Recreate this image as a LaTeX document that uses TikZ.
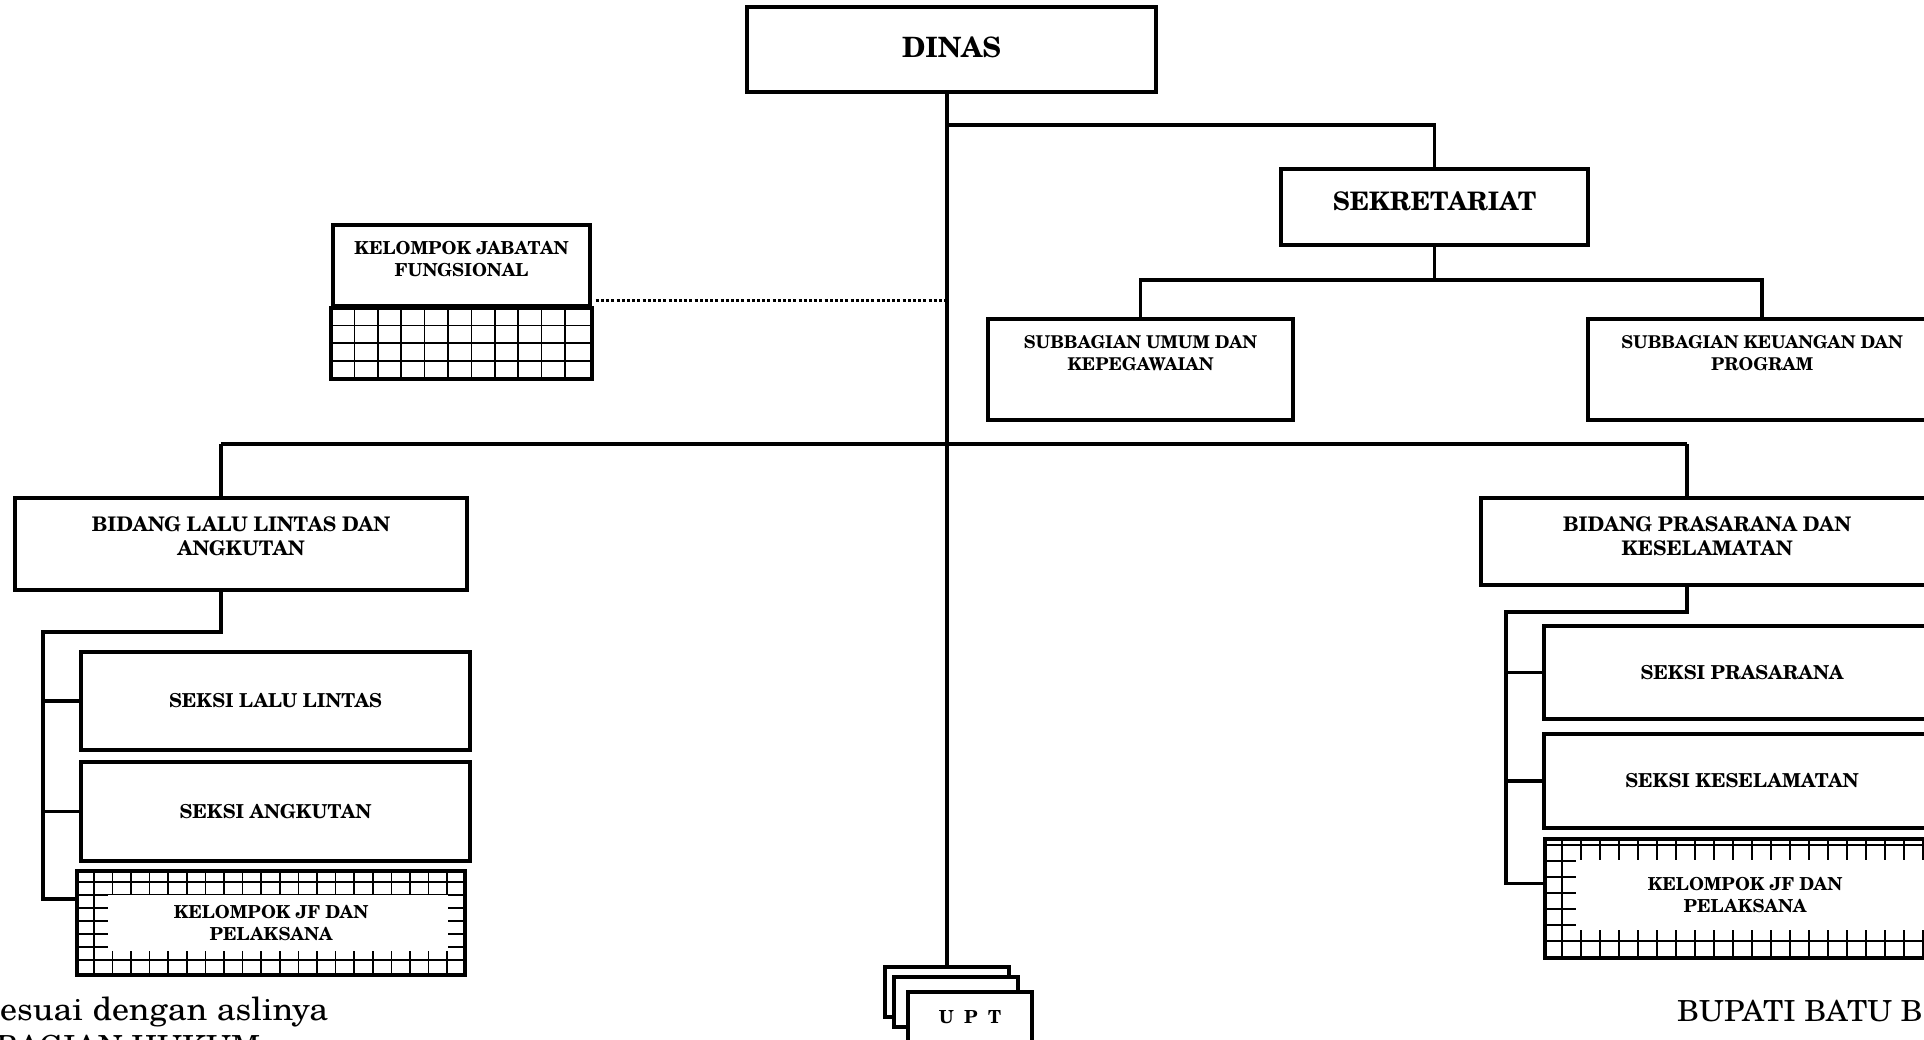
\documentclass[tikz,border=0pt]{standalone}
\usepackage{fontspec}
\setmainfont{texgyreschola}[Extension=.otf, UprightFont=*-regular, BoldFont=*-bold, ItalicFont=*-italic, BoldItalicFont=*-bolditalic]
\usepackage{tikz}
\usetikzlibrary{backgrounds}

\begin{document}
\begin{tikzpicture}[x=1pt, y=-1pt,
		box/.style={draw, line width=3.6pt, fill=white, align=center, inner sep=0pt},
		hatch/.style={box, fill=none},
		line/.style={line width=3.2pt},
		gridline/.style={line width=1.6pt},
		dots/.style={line width=3pt, dash pattern=on 3pt off 2.2pt},
		plain/.style={anchor=base west, inner sep=0pt}]
		\useasboundingbox (0,0) rectangle (1924,1040);
		\clip (0,0) rectangle (1924,1040);

		\node[box, minimum width=409, minimum height=85, text depth=4pt, font=\bfseries\fontsize{28}{32}\selectfont] (dinas) at (951.5,49.5) {DINAS};
		\node[box, minimum width=307, minimum height=76, text depth=12pt, font=\bfseries\fontsize{25.5}{30}\selectfont] (sekr) at (1434.5,207) {SEKRETARIAT};
		\node[box, minimum width=305, minimum height=101, text depth=33pt, font=\bfseries\fontsize{17.6}{22}\selectfont] (subum) at (1140.5,369.5) {SUBBAGIAN UMUM DAN\\KEPEGAWAIAN};
		\node[box, minimum width=348, minimum height=101, text depth=33pt, font=\bfseries\fontsize{17.6}{22}\selectfont] (subku) at (1762,369.5) {SUBBAGIAN KEUANGAN DAN\\PROGRAM};
		\node[box, minimum width=257, minimum height=81, text depth=13pt, font=\bfseries\fontsize{17.9}{22}\selectfont] (kjf) at (461.5,265.5) {KELOMPOK JABATAN\\FUNGSIONAL};

		\node[box, minimum width=452, minimum height=92, text depth=16pt, font=\bfseries\fontsize{20.1}{24}\selectfont] (bll) at (241,544) {BIDANG LALU LINTAS DAN\\ANGKUTAN};
		\node[box, minimum width=389, minimum height=98, font=\bfseries\fontsize{19.2}{24}\selectfont] (sll) at (275.5,701) {SEKSI LALU LINTAS};
		\node[box, minimum width=389, minimum height=99, font=\bfseries\fontsize{19.2}{24}\selectfont] (sak) at (275.5,811.5) {SEKSI ANGKUTAN};
		\node[hatch, minimum width=388, minimum height=104, font=\bfseries\fontsize{17.9}{22}\selectfont] (kjfl) at (271,923) {KELOMPOK JF DAN\\PELAKSANA};

		\node[box, minimum width=452, minimum height=87, text depth=11pt, font=\bfseries\fontsize{20.1}{24}\selectfont] (bpk) at (1707,541.5) {BIDANG PRASARANA DAN\\KESELAMATAN};
		\node[box, minimum width=396, minimum height=93, font=\bfseries\fontsize{19.2}{24}\selectfont] (spr) at (1742,672.5) {SEKSI PRASARANA};
		\node[box, minimum width=396, minimum height=94, font=\bfseries\fontsize{19.2}{24}\selectfont] (skl) at (1742,781) {SEKSI KESELAMATAN};
		\node[hatch, minimum width=400, minimum height=119, text depth=8pt, font=\bfseries\fontsize{17.9}{22}\selectfont] (kjfr) at (1745,898.5) {KELOMPOK JF DAN\\PELAKSANA};

		\node[box, minimum width=124, minimum height=50] (upt1) at (947,992) {};
		\node[box, minimum width=124, minimum height=50] (upt2) at (956,1002) {};
		\node[box, minimum width=124, minimum height=50, font=\bfseries\fontsize{18}{22}\selectfont] (upt3) at (970,1017) {U\ \ P\ \ T};

		\node[plain, font=\addfontfeature{FakeStretch=1.06}\fontsize{32}{36}\selectfont] (ket) at (0,1020) {esuai dengan aslinya};
		\node[plain, font=\addfontfeature{FakeStretch=1.06}\fontsize{29}{34}\selectfont] (bag) at (-4,1056) {BAGIAN HUKUM};
		\node[plain, font=\addfontfeature{FakeStretch=1.05}\fontsize{29}{34}\selectfont] (bup) at (1677,1021) {BUPATI BATU B};

		\coordinate (hl) at (221,444);
		\coordinate (hr) at (1687,444);
		\coordinate (bl) at (43,632);
		\coordinate (br) at (1506,612);
		\coordinate (d1) at ([xshift=4pt,yshift=7pt]kjf.south east);

		\draw[line] (upt1.north |- dinas.south) -- (upt1.north);
		\draw[line] (upt1.north |- 0,125) -| (sekr.north);
		\draw[line] (sekr.south) -- (sekr.south |- 0,280);
		\draw[line] (subum.north) -- (subum.north |- 0,280) -| (subku.north);
		\draw[dots] (d1) -- (d1 -| upt1.north);

		\draw[line] (hl) -- (hr);
		\draw[line] (hl) -- (hl |- bll.north);
		\draw[line] (hr) -- (hr |- bpk.north);

		\draw[line] (hl |- bll.south) |- (bl) |- ([yshift=24pt]kjfl.west);
		\draw[line] (bl |- sll.west) -- (sll.west);
		\draw[line] (bl |- sak.west) -- (sak.west);

		\draw[line] (hr |- bpk.south) |- (br) |- ([yshift=15pt]kjfr.west);
		\draw[line] (br |- spr.west) -- (spr.west);
		\draw[line] (br |- skl.west) -- (skl.west);

		\foreach \i in {1,...,10}
			\draw[gridline] ([xshift=\i*23.36pt]kjf.south west) -- ++(0,71);
		\foreach \j in {1,2,3}
			\draw[gridline] ([yshift=-\j*17.75pt]kjf.south west) -- ([yshift=-\j*17.75pt]kjf.south east);
		\draw[line width=3.6pt] (kjf.south west) rectangle ([yshift=-71pt]kjf.south east);

		\begin{pgfonlayer}{background}
			\begin{scope}
				\clip (kjfl.north west) rectangle (kjfl.south east);
				\foreach \i in {1,...,21}
					\draw[gridline] ([xshift=\i*18.6pt]kjfl.north west) -- ([xshift=\i*18.6pt]kjfl.south west);
				\foreach \j in {1,...,7}
					\draw[gridline] ([yshift=-\j*13pt]kjfl.north west) -- ([yshift=-\j*13pt]kjfl.north east);
				\fill[white] ([shift={(33,26)}]kjfl.north west) rectangle ([shift={(-19,-26)}]kjfl.south east);
			\end{scope}
			\begin{scope}
				\clip (kjfr.north west) rectangle (kjfr.south east);
				\foreach \i in {1,...,21}
					\draw[gridline] ([xshift=\i*19pt]kjfr.north west) -- ([xshift=\i*19pt]kjfr.south west);
				\foreach \j in {0,...,6}
					\draw[gridline] ([yshift=-8pt-\j*16pt]kjfr.north west) -- ([yshift=-8pt-\j*16pt]kjfr.north east);
				\fill[white] ([shift={(33,23)}]kjfr.north west) rectangle ([shift={(-19,-30)}]kjfr.south east);
			\end{scope}
		\end{pgfonlayer}
	\end{tikzpicture}
\end{document}
